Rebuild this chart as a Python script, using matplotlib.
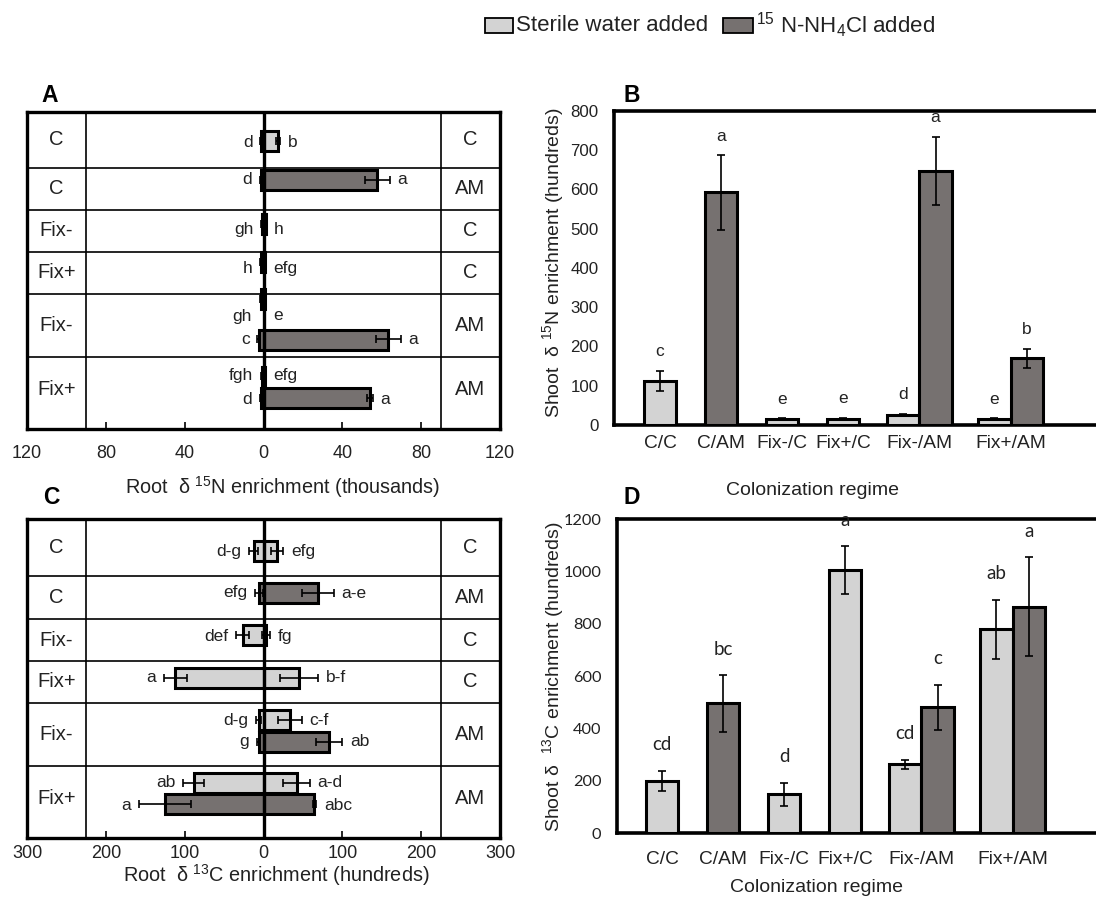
import matplotlib
matplotlib.use("Agg")
import matplotlib.pyplot as plt
from matplotlib.patches import Rectangle

plt.rcParams['font.family'] = ['Liberation Sans', 'DejaVu Sans']
plt.rcParams['mathtext.fontset'] = 'custom'
plt.rcParams['mathtext.rm'] = 'Liberation Sans'
plt.rcParams['mathtext.it'] = 'Liberation Sans:italic'
plt.rcParams['mathtext.bf'] = 'Liberation Sans:bold'

# ---------------- data ----------------
# split-root rows: left half treatment | right half treatment
row_left = ["C", "C", "Fix-", "Fix+", "Fix-", "Fix+"]
row_right = ["C", "AM", "C", "C", "AM", "AM"]
bar_row = [0, 1, 2, 3, 4, 4, 5, 5]
bar_series = ["water", "N", "water", "water", "water", "N", "water", "N"]

# Root d15N enrichment (thousands)
root15n_left = [1.2, 1.5, 1.0, 1.5, 1.5, 2.5, 1.0, 1.5]
root15n_left_err = [0.5, 0.5, 0.3, 0.5, 0.5, 0.8, 0.3, 0.5]
root15n_right = [7.5, 57.8, 1.2, 0.8, 0.8, 63.4, 0.8, 54.0]
root15n_right_err = [1.0, 6.5, 0.3, 0.3, 0.3, 6.4, 0.3, 1.5]
root15n_left_letters = ["d", "d", "gh", "h", "gh", "c", "fgh", "d"]
root15n_right_letters = ["b", "a", "h", "efg", "e", "a", "efg", "a"]

# Root d13C enrichment (hundreds)
root13c_left = [12.4, 6.0, 26.5, 112.0, 6.0, 6.0, 88.5, 124.7]
root13c_left_err = [5.5, 5.0, 8.0, 14.5, 3.0, 2.0, 13.5, 33.0]
root13c_right = [17.6, 68.8, 3.5, 44.9, 33.3, 83.7, 41.9, 64.5]
root13c_right_err = [7.7, 20.0, 5.0, 24.0, 15.0, 16.5, 16.7, 2.0]
root13c_left_letters = ["d-g", "efg", "def", "a", "d-g", "g", "ab", "a"]
root13c_right_letters = ["efg", "a-e", "fg", "b-f", "c-f", "ab", "a-d", "abc"]

# Shoot panels
regimes = ["C/C", "C/AM", "Fix-/C", "Fix+/C", "Fix-/AM", "Fix+/AM"]
shoot15n_water = [112, None, 15, 15, 25, 15]
shoot15n_water_err = [26, None, 2, 3, 3, 2]
shoot15n_n = [None, 592, None, None, 647, 170]
shoot15n_n_err = [None, 95, None, None, 86, 24]
shoot15n_water_letters = ["c", None, "e", "e", "d", "e"]
shoot15n_n_letters = [None, "a", None, None, "a", "b"]

shoot13c_water = [200, None, 149, 1007, 264, 780]
shoot13c_water_err = [40, None, 45, 91, 17, 113]
shoot13c_n = [None, 497, None, None, 482, 866]
shoot13c_n_err = [None, 108, None, None, 86, 190]
shoot13c_water_letters = ["cd", None, "d", "a", "cd", "ab"]
shoot13c_n_letters = [None, "bc", None, None, "c", "a"]

# ---------------- style / layout ----------------
W, H = 1096, 899
LIGHT = '#d3d3d3'
DARK = '#767170'
EDGE_LW = 2.2
COLORS = {"water": LIGHT, "N": DARK}

fig = plt.figure(figsize=(W / 100, H / 100), dpi=100)


def px_axes(x0, y0, x1, y1):
    return fig.add_axes([x0 / W, 1 - y1 / H, (x1 - x0) / W, (y1 - y0) / H])


def ftext(x, y, s, **kw):
    fig.text(x / W, 1 - y / H, s, **kw)


def root_panel(ax, span, inner, step, left, left_err, right, right_err,
               lletters, rletters, bounds, bar_y, label_y, height, pad_units,
               tick_pad):
    ax.set_xlim(-span, span)
    ax.set_ylim(height, 0)
    for s in ax.spines.values():
        s.set_linewidth(2.4)
    ax.axvline(-inner, color='black', lw=1.2, zorder=2)
    ax.axvline(inner, color='black', lw=1.2, zorder=2)
    for b in bounds:
        ax.axhline(b, color='black', lw=1.2, zorder=2)
    for i in range(len(bar_row)):
        c = COLORS[bar_series[i]]
        y = bar_y[i]
        ax.barh(y, -left[i], height=20, color=c, edgecolor='black',
                lw=EDGE_LW, zorder=3)
        ax.barh(y, right[i], height=20, color=c, edgecolor='black',
                lw=EDGE_LW, zorder=3)
        ax.errorbar(-left[i], y, xerr=left_err[i], fmt='none', ecolor='black',
                    elinewidth=1.2, capsize=3, capthick=1.2, zorder=4)
        ax.errorbar(right[i], y, xerr=right_err[i], fmt='none', ecolor='black',
                    elinewidth=1.2, capsize=3, capthick=1.2, zorder=4)
        ax.text(-left[i] - left_err[i] - pad_units, label_y[i], lletters[i],
                ha='right', va='center', fontsize=12.5, color='#222222')
        ax.text(right[i] + right_err[i] + pad_units, label_y[i], rletters[i],
                ha='left', va='center', fontsize=12.5, color='#222222')
    ax.axvline(0, color='black', lw=2.4, zorder=5)
    edges = [0] + list(bounds) + [height - 6]
    for r in range(len(row_left)):
        yc = (edges[r] + edges[r + 1]) / 2
        ax.text(-(span + inner) / 2, yc, row_left[r], ha='center',
                va='center', fontsize=14.5, color='#222222')
        ax.text((span + inner) / 2, yc, row_right[r], ha='center',
                va='center', fontsize=14.5, color='#222222')
    ax.set_yticks([])
    ticks = [-span, -2 * step, -step, 0, step, 2 * step, span]
    ax.set_xticks(ticks)
    ax.set_xticklabels([f"{abs(t):g}" for t in ticks])
    ax.tick_params(axis='x', direction='in', length=5, width=1.2,
                   pad=tick_pad, labelsize=13, colors='black',
                   labelcolor='#222222')


CAT_POS = [0, 1, 2, 3, 4.25, 5.75]
BAR_W = 0.535


def shoot_panel(ax, xlim, ymax, ystep, water, water_err, nval, n_err,
                wl, nl, letter_off, letter_font, letter_size,
                ytick_font, ytick_size, ytick_pad, xtick_pad):
    ax.set_xlim(*xlim)
    ax.set_ylim(0, ymax)
    for side in ['left', 'top', 'bottom']:
        ax.spines[side].set_linewidth(2.6)
    ax.spines['right'].set_visible(False)
    for i, pos in enumerate(CAT_POS):
        both = water[i] is not None and nval[i] is not None
        for val, err, let, c, sign in ((water[i], water_err[i], wl[i], LIGHT, -1),
                                       (nval[i], n_err[i], nl[i], DARK, 1)):
            if val is None:
                continue
            x = pos + sign * BAR_W / 2 if both else pos
            ax.bar(x, val, BAR_W, color=c, edgecolor='black', lw=EDGE_LW,
                   zorder=3)
            ax.errorbar(x, val, yerr=err, fmt='none', ecolor='black',
                        elinewidth=1.2, capsize=3.2, capthick=1.2, zorder=4)
            ax.annotate(let, (x, val + err), xytext=(0, letter_off),
                        textcoords='offset points', ha='center', va='center',
                        fontsize=letter_size, family=letter_font,
                        color='#222222')
    ax.set_xticks(CAT_POS)
    ax.set_xticklabels(regimes)
    ax.set_yticks(range(0, ymax + 1, ystep))
    ax.tick_params(axis='x', length=0, pad=xtick_pad, labelsize=13.8,
                   labelcolor='#222222')
    ax.tick_params(axis='y', length=0, pad=ytick_pad, labelsize=ytick_size,
                   labelcolor='#222222')
    for t in ax.get_yticklabels():
        t.set_family(ytick_font)


# ---------------- panel A ----------------
axA = px_axes(27, 112, 500, 429)
root_panel(axA, 120, 90, 40, root15n_left, root15n_left_err, root15n_right,
           root15n_right_err, root15n_left_letters, root15n_right_letters,
           bounds=[56, 98, 140, 182, 245],
           bar_y=[29, 68.5, 112, 150, 187, 227.5, 264.5, 286],
           label_y=[30.7, 68, 118, 157, 204, 227.3, 263.5, 287.5],
           height=317, pad_units=3.8, tick_pad=11.5)

# ---------------- panel C ----------------
axC = px_axes(27, 519, 500, 838)
root_panel(axC, 300, 225, 100, root13c_left, root13c_left_err, root13c_right,
           root13c_right_err, root13c_left_letters, root13c_right_letters,
           bounds=[56.7, 100, 142, 183.7, 247],
           bar_y=[32, 74, 116, 158.5, 200.5, 222.7, 264.3, 285.3],
           label_y=[32.7, 74, 117.7, 159, 201.7, 222.7, 263.7, 286],
           height=319, pad_units=10, tick_pad=5)

# ---------------- panel B ----------------
axB = px_axes(614, 110.7, 1096, 425)
shoot_panel(axB, (-0.754, 7.148), 800, 100, shoot15n_water, shoot15n_water_err,
            shoot15n_n, shoot15n_n_err, shoot15n_water_letters,
            shoot15n_n_letters, letter_off=13.7,
            letter_font=['Liberation Sans'], letter_size=12.5,
            ytick_font=['Liberation Sans'], ytick_size=12.2, ytick_pad=11,
            xtick_pad=7.5)

# ---------------- panel D ----------------
axD = px_axes(616.7, 519.3, 1096, 833.3)
shoot_panel(axD, (-0.743, 7.115), 1200, 200, shoot13c_water, shoot13c_water_err,
            shoot13c_n, shoot13c_n_err, shoot13c_water_letters,
            shoot13c_n_letters, letter_off=18.7,
            letter_font=['Lato', 'DejaVu Sans'], letter_size=13.5,
            ytick_font=['Lato', 'DejaVu Sans'], ytick_size=11.8, ytick_pad=11,
            xtick_pad=12.5)

# ---------------- axis titles ----------------
ftext(283, 487, r"Root  δ $^{15}$N enrichment (thousands)", ha='center',
      va='center', fontsize=14.3, color='#222222')
ftext(276, 875, r"Root  δ $^{13}$C enrichment (hundreds)", ha='center',
      va='center', fontsize=14.3, color='#222222')
ftext(553, 263, r"Shoot  δ $^{15}$N enrichment (hundreds)", ha='center',
      va='center', rotation=90, fontsize=14, color='#222222')
ftext(553, 677, r"Shoot δ  $^{13}$C enrichment (hundreds)", ha='center',
      va='center', rotation=90, fontsize=14, color='#222222')
ftext(813, 490, "Colonization regime", ha='center', va='center',
      fontsize=14, color='#222222')
ftext(817, 888, "Colonization regime", ha='center', va='center',
      fontsize=14, color='#222222')

# panel letters
for lab, (x, y) in {"A": (50, 95), "B": (632, 95), "C": (51, 498),
                    "D": (632, 498)}.items():
    ftext(x, y, lab, ha='center', va='center', fontsize=16.5,
          fontweight='bold', color='black')

# ---------------- legend ----------------
for (x0, x1), c in (((485, 513), LIGHT), ((723, 753), DARK)):
    fig.add_artist(Rectangle((x0 / W, 1 - 33 / H), (x1 - x0) / W, 15 / H,
                             transform=fig.transFigure, facecolor=c,
                             edgecolor='black', lw=1.3))
ftext(516.5, 25.5, "Sterile water added", ha='left', va='center',
      fontsize=16, color='#222222')
ftext(756.5, 25.5, r"$^{15}$ N-NH$_4$Cl added", ha='left', va='center',
      fontsize=16, color='#222222')

fig.savefig("out.png", dpi=100)
